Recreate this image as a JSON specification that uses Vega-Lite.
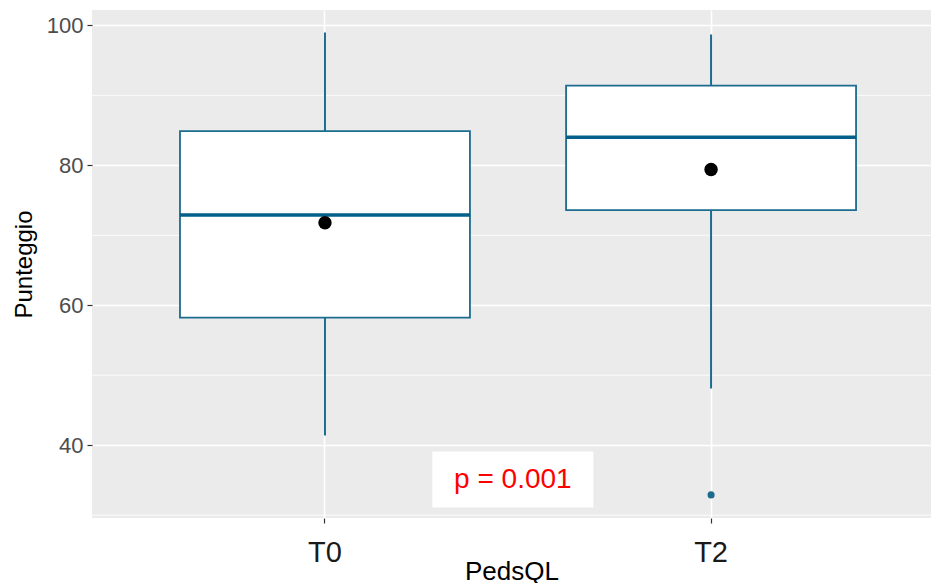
{
  "$schema": "https://vega.github.io/schema/vega-lite/v6.json",
  "width": 839,
  "height": 508,
  "autosize": "none",
  "padding": {"left": 92, "top": 10, "right": 0, "bottom": 65},
  "background": "white",
  "config": {
    "view": {"fill": "#EBEBEB", "stroke": null},
    "font": "Liberation Sans"
  },
  "datasets": {
    "stats": [
      {"group": "T0", "lower": 41.4, "q1": 58.25, "median": 72.9, "q3": 84.9, "upper": 99.0, "mean": 71.8},
      {"group": "T2", "lower": 48.1, "q1": 73.6, "median": 84.0, "q3": 91.4, "upper": 98.7, "mean": 79.4}
    ],
    "outliers": [{"group": "T2", "value": 32.9}],
    "minor": [{"g": 30}, {"g": 50}, {"g": 70}, {"g": 90}],
    "ptext": [{"group": "T0", "y": 35.1, "label": "p = 0.001"}]
  },
  "encoding": {
    "x": {
      "field": "group",
      "type": "nominal",
      "scale": {"domain": ["T0", "T2"], "paddingInner": 0.249, "paddingOuter": 0.211, "align": 0.54},
      "axis": {
        "title": "PedsQL",
        "titleFontSize": 26,
        "titleFontWeight": "normal",
        "titleColor": "#000000",
        "titlePadding": -9,
        "labelFontSize": 29,
        "labelColor": "#1A1A1A",
        "labelAngle": 0,
        "labelPadding": 15,
        "tickColor": "#333333",
        "tickSize": 5,
        "tickWidth": 1.2,
        "tickBand": "center",
        "domain": false,
        "grid": true,
        "gridColor": "#FFFFFF",
        "gridWidth": 1.6
      }
    }
  },
  "layer": [
    {
      "data": {"name": "minor"},
      "mark": {"type": "rule", "color": "#FFFFFF", "strokeWidth": 0.8},
      "encoding": {
        "x": null,
        "y": {"field": "g", "type": "quantitative"}
      }
    },
    {
      "data": {"name": "stats"},
      "mark": {"type": "rule", "color": "#1B6C8E", "strokeWidth": 2},
      "encoding": {
        "y": {
          "field": "lower",
          "type": "quantitative",
          "scale": {"domain": [29.6, 102.2], "nice": false, "zero": false},
          "axis": {
            "title": "Punteggio",
            "titleFontSize": 24,
            "titleFontWeight": "normal",
            "titleColor": "#000000",
            "titlePadding": 10,
            "values": [40, 60, 80, 100],
            "labelFontSize": 22,
            "labelColor": "#4D4D4D",
            "labelPadding": 4,
            "tickColor": "#333333",
            "tickSize": 5,
            "tickWidth": 1.2,
            "domain": false,
            "grid": true,
            "gridColor": "#FFFFFF",
            "gridWidth": 1.6
          }
        },
        "y2": {"field": "upper"}
      }
    },
    {
      "data": {"name": "stats"},
      "mark": {"type": "bar", "fill": "#FFFFFF", "stroke": "#1B6C8E", "strokeWidth": 1.8},
      "encoding": {
        "y": {"field": "q1", "type": "quantitative"},
        "y2": {"field": "q3"}
      }
    },
    {
      "data": {"name": "stats"},
      "mark": {"type": "tick", "color": "#02608A", "thickness": 3.5, "size": 290, "orient": "horizontal", "opacity": 1},
      "encoding": {
        "y": {"field": "median", "type": "quantitative"}
      }
    },
    {
      "data": {"name": "stats"},
      "mark": {"type": "point", "filled": true, "color": "#000000", "size": 180, "opacity": 1},
      "encoding": {
        "y": {"field": "mean", "type": "quantitative"}
      }
    },
    {
      "data": {"name": "outliers"},
      "mark": {"type": "point", "filled": true, "color": "#1B6C8E", "size": 50, "opacity": 1},
      "encoding": {
        "y": {"field": "value", "type": "quantitative"}
      }
    },
    {
      "data": {"name": "ptext"},
      "mark": {"type": "point", "filled": true, "color": "#FFFFFF", "opacity": 1, "size": 25921, "shape": "M-1,-0.348L1,-0.348L1,0.348L-1,0.348Z"},
      "encoding": {
        "x": {"field": "group", "type": "nominal", "bandPosition": 1.148},
        "y": {"field": "y", "type": "quantitative"}
      }
    },
    {
      "data": {"name": "ptext"},
      "mark": {"type": "text", "color": "#FF0000", "fontSize": 28, "baseline": "middle", "align": "center"},
      "encoding": {
        "x": {"field": "group", "type": "nominal", "bandPosition": 1.148},
        "y": {"field": "y", "type": "quantitative"},
        "text": {"field": "label"}
      }
    }
  ]
}
